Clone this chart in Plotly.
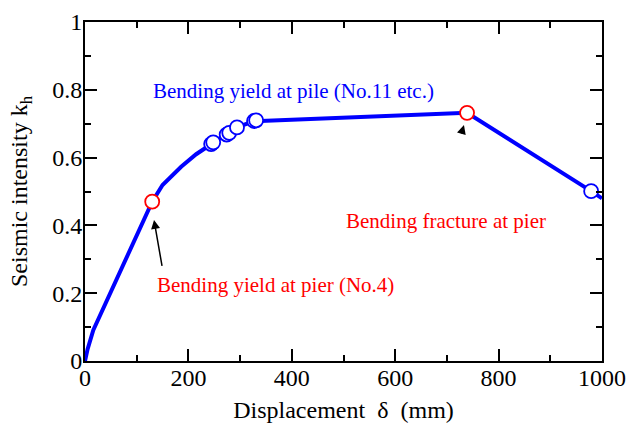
import plotly.graph_objects as go

# Curve data (displacement mm, seismic intensity kh)
curve_x = [0, 5, 16, 60, 100, 130, 150, 170, 186, 215, 244, 276, 293, 327, 739, 979, 1000]
curve_y = [0, 0.035, 0.091, 0.24, 0.37, 0.47, 0.519, 0.55, 0.573, 0.61, 0.640, 0.672, 0.689, 0.707, 0.732, 0.501, 0.48]

blue_x = [244, 248, 274, 279, 294, 327, 331, 979]
blue_y = [0.640, 0.645, 0.668, 0.673, 0.689, 0.708, 0.710, 0.501]

red_x = [130, 739]
red_y = [0.47, 0.732]

x_ticks = [0, 200, 400, 600, 800, 1000]
x_tick_labels = ["0", "200", "400", "600", "800", "1000"]
y_ticks = [0, 0.2, 0.4, 0.6, 0.8, 1.0]
y_tick_labels = ["0", "0.2", "0.4", "0.6", "0.8", "1"]

FONT = "Liberation Serif"

fig = go.Figure()
fig.add_trace(go.Scatter(x=curve_x, y=curve_y, mode="lines",
                         line=dict(color="#0000ff", width=4), hoverinfo="skip"))
fig.add_trace(go.Scatter(x=blue_x, y=blue_y, mode="markers",
                         marker=dict(symbol="circle", size=14, color="white",
                                     line=dict(color="#0000ff", width=1.8))))
fig.add_trace(go.Scatter(x=red_x, y=red_y, mode="markers",
                         marker=dict(symbol="circle", size=14, color="white",
                                     line=dict(color="#ff0000", width=1.8))))

axis_common = dict(showline=True, linecolor="black", linewidth=2, mirror="ticks",
                   ticks="inside", ticklen=12, tickwidth=1.5, tickcolor="black",
                   showgrid=False, zeroline=False, automargin=False,
                   tickfont=dict(family=FONT, size=24, color="black"))

fig.update_xaxes(range=[0, 1000], tickvals=x_ticks, ticktext=x_tick_labels,
                 ticklabelstandoff=-6,
                 minor=dict(ticks="inside", ticklen=6, tickwidth=1.5, tickcolor="black", dtick=100),
                 title=dict(text="Displacement \u00a0δ \u00a0(mm)", font=dict(family=FONT, size=24, color="black"),
                            standoff=11),
                 **axis_common)
fig.update_yaxes(range=[0, 1], tickvals=y_ticks, ticktext=y_tick_labels,
                 ticklabelstandoff=-4,
                 minor=dict(ticks="inside", ticklen=6, tickwidth=1.5, tickcolor="black", dtick=0.1),
                 title=dict(text="Seismic intensity k<sub>h</sub>", font=dict(family=FONT, size=24, color="black"),
                            standoff=18),
                 **axis_common)

fig.add_annotation(x=128, y=0.797, xref="x", yref="y", text="Bending yield at pile (No.11 etc.)",
                   showarrow=False, xanchor="left", yanchor="middle",
                   font=dict(family=FONT, size=21, color="#0000ff"))
fig.add_annotation(x=500, y=0.414, xref="x", yref="y", text="Bending fracture at pier",
                   showarrow=False, xanchor="left", yanchor="middle",
                   font=dict(family=FONT, size=21, color="#ff0000"))
fig.add_annotation(x=135, y=0.224, xref="x", yref="y", text="Bending yield at pier (No.4)",
                   showarrow=False, xanchor="left", yanchor="middle",
                   font=dict(family=FONT, size=21, color="#ff0000"))
# arrows
fig.add_annotation(x=133.5, y=0.416, ax=149.5, ay=0.276, xref="x", yref="y", axref="x", ayref="y",
                   text="", showarrow=True, arrowhead=2, arrowsize=1.2, arrowwidth=1.5, arrowcolor="black")
fig.add_annotation(x=733, y=0.696, ax=-3, ay=10, xref="x", yref="y",
                   text="", showarrow=True, arrowhead=2, arrowsize=1.2, arrowwidth=1.5, arrowcolor="black")

fig.update_layout(width=627, height=437, margin=dict(l=85, r=25, t=22, b=76),
                  plot_bgcolor="white", paper_bgcolor="white", showlegend=False)

fig.write_html("out.html", config={"displayModeBar": False},
               post_script="document.body.style.margin='0';")
